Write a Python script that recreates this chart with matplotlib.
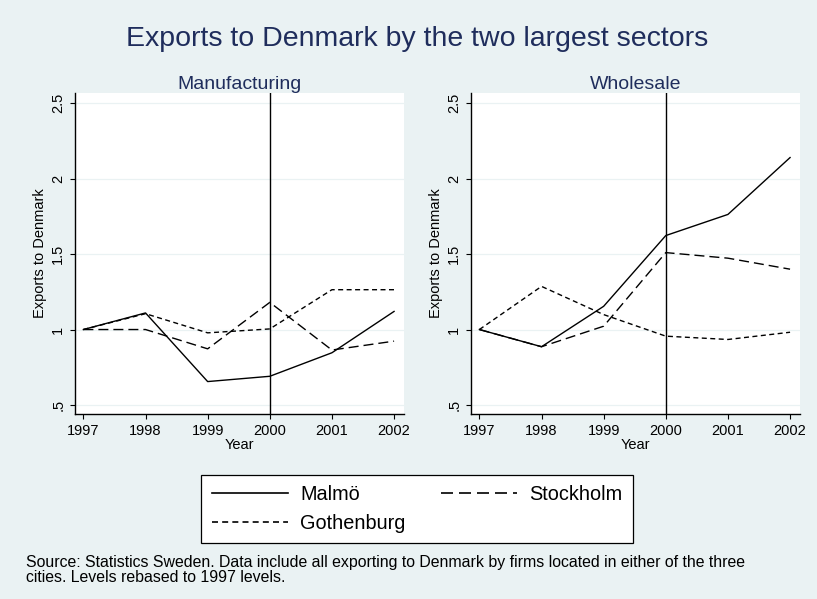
import matplotlib
matplotlib.use("Agg")
import matplotlib.pyplot as plt
from matplotlib.lines import Line2D

plt.rcParams['font.family'] = ['Liberation Sans', 'DejaVu Sans']

# data (levels rebased to 1997)
years = [1997, 1998, 1999, 2000, 2001, 2002]
sectors = ["Manufacturing", "Wholesale"]

manuf_malmo = [1.0, 1.11, 0.655, 0.69, 0.846, 1.12]
manuf_stockholm = [1.0, 1.0, 0.872, 1.18, 0.864, 0.923]
manuf_gothenburg = [1.0, 1.105, 0.978, 1.004, 1.264, 1.264]

whole_malmo = [1.0, 0.886, 1.154, 1.623, 1.763, 2.14]
whole_stockholm = [1.0, 0.886, 1.022, 1.51, 1.473, 1.40]
whole_gothenburg = [1.0, 1.286, 1.099, 0.956, 0.934, 0.982]

yticks = [0.5, 1, 1.5, 2, 2.5]
ytick_labels = [".5", "1", "1.5", "2", "2.5"]
break_year = 2000

BG = "#EAF2F3"
NAVY = "#1F2D5C"
W, H = 817, 599

long_dash = (0, (7.2, 3.6))
short_dash = (0, (3.6, 2.5))

fig = plt.figure(figsize=(W / 100, H / 100), dpi=100, facecolor=BG)


def px_axes(x0, y0, x1, y1):
    return fig.add_axes([x0 / W, 1 - y1 / H, (x1 - x0) / W, (y1 - y0) / H])


ax1 = px_axes(75, 93, 404, 414)
ax2 = px_axes(471, 93, 800, 414)

panels = [
    (ax1, manuf_malmo, manuf_stockholm, manuf_gothenburg),
    (ax2, whole_malmo, whole_stockholm, whole_gothenburg),
]

for (ax, malmo, stock, goth), name in zip(panels, sectors):
    ax.set_facecolor("white")
    ax.plot(years, malmo, color="black", lw=1.0, ls="-")
    ax.plot(years, stock, color="black", lw=1.0, ls=long_dash)
    ax.plot(years, goth, color="black", lw=1.0, ls=short_dash)
    ax.axvline(break_year, color="black", lw=1.0)

    ax.set_xlim(1996.865, 2002.16)
    ax.set_ylim(0.44, 2.568)
    ax.set_xticks(years)
    ax.set_yticks(yticks)
    ax.set_yticklabels(ytick_labels, rotation=90, va="center")
    ax.grid(axis="y", color=BG, lw=0.9)
    ax.set_axisbelow(True)

    for s in ["top", "right"]:
        ax.spines[s].set_visible(False)
    for s in ["left", "bottom"]:
        ax.spines[s].set_linewidth(1.0)
    ax.tick_params(axis="both", direction="out", length=3.6, width=0.8,
                   labelsize=10.5, pad=3.5, colors="black")

    ax.set_xlabel("Year", fontsize=10.5, labelpad=0)
    ax.set_ylabel("Exports to Denmark", fontsize=10.5, labelpad=3)
    ax.set_title(name, fontsize=14, color=NAVY, pad=3)

fig.text(417.5 / W, 1 - 46 / H, "Exports to Denmark by the two largest sectors",
         fontsize=20.5, color=NAVY, ha="center", va="baseline")

handles = [
    Line2D([], [], color="black", lw=1.2, ls="-"),
    Line2D([], [], color="black", lw=1.2, ls=short_dash),
    Line2D([], [], color="black", lw=1.2, ls=long_dash),
]
labels = ["Malmö", "Gothenburg", "Stockholm"]
leg = fig.legend(handles, labels, ncol=2, loc="center",
                 bbox_to_anchor=(417 / W, 1 - 509 / H),
                 fontsize=14.3, handlelength=3.87, handletextpad=0.6,
                 columnspacing=1.75, labelspacing=0.51, borderpad=0.52,
                 borderaxespad=0, fancybox=False, frameon=True, framealpha=1)
leg.get_frame().set_edgecolor("black")
leg.get_frame().set_linewidth(0.9)
leg.get_frame().set_facecolor("white")

fig.text(26 / W, 1 - 567 / H,
         "Source: Statistics Sweden. Data include all exporting to Denmark by firms located in either of the three",
         fontsize=11.45, ha="left", va="baseline")
fig.text(26 / W, 1 - 582 / H, "cities. Levels rebased to 1997 levels.",
         fontsize=11.45, ha="left", va="baseline")

fig.savefig("out.png", dpi=100, facecolor=BG)
